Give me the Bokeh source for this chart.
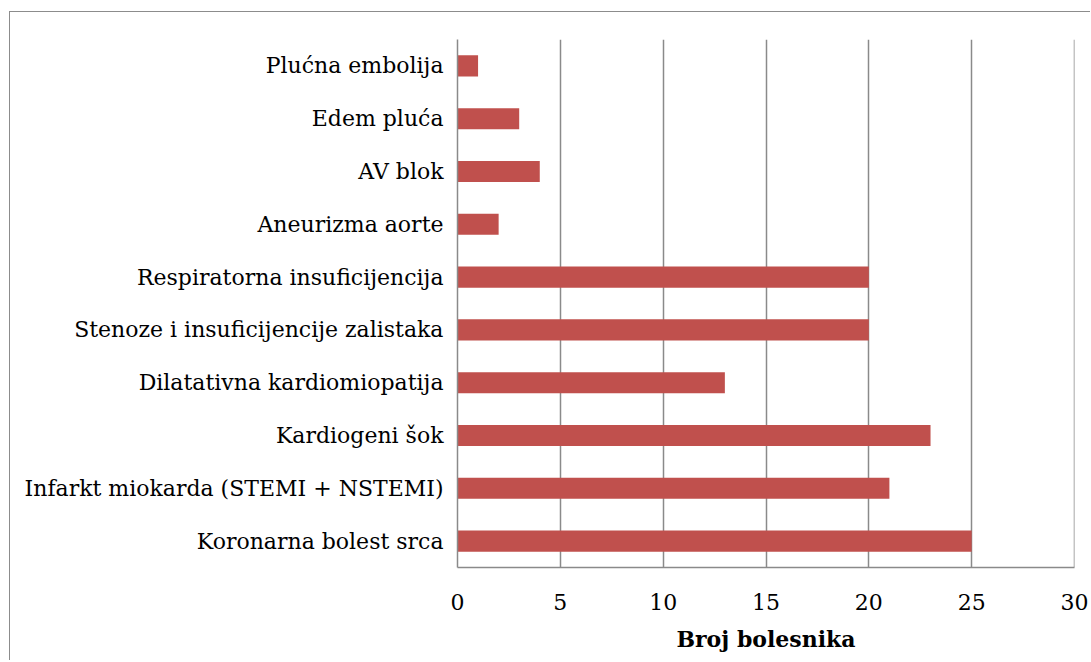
from bokeh.plotting import figure
from bokeh.models import FactorRange, Range1d, FixedTicker, Span
from bokeh.embed import file_html
from bokeh.resources import INLINE

categories = [
    "Plućna embolija",
    "Edem pluća",
    "AV blok",
    "Aneurizma aorte",
    "Respiratorna insuficijencija",
    "Stenoze i insuficijencije zalistaka",
    "Dilatativna kardiomiopatija",
    "Kardiogeni šok",
    "Infarkt miokarda (STEMI + NSTEMI)",
    "Koronarna bolest srca",
]
values = [1, 3, 4, 2, 20, 20, 13, 23, 21, 25]
x_ticks = [0, 5, 10, 15, 20, 25, 30]
x_title = "Broj bolesnika"

FONT = "DejaVu Serif"
GRID = "#8a8a8a"

p = figure(
    width=1081, height=649,
    y_range=FactorRange(factors=list(reversed(categories)), range_padding=0),
    x_range=Range1d(0, 30),
    output_backend="svg", toolbar_location=None,
    min_border_left=447, min_border_right=17, min_border_top=27, min_border_bottom=94,
)
p.margin = (11, 0, 0, 9)
p.styles = {"border-left": "1.5px solid #8c8c8c", "border-top": "1.5px solid #8c8c8c"}

p.hbar(y=categories, right=values, left=0, height=0.4,
       fill_color="#C0504D", line_color=None)

p.outline_line_color = None
p.ygrid.grid_line_color = None
p.xgrid.grid_line_color = GRID
p.xgrid.grid_line_width = 1.5
p.xgrid.ticker = FixedTicker(ticks=x_ticks)
p.add_layout(Span(location=x_ticks[-1], dimension="height",
                  line_color=GRID, line_width=1.5))

p.xaxis.ticker = FixedTicker(ticks=x_ticks)
p.xaxis.axis_line_color = GRID
p.xaxis.axis_line_width = 1.5
p.xaxis.major_tick_line_color = None
p.xaxis.minor_tick_line_color = None
p.xaxis.major_label_text_font = FONT
p.xaxis.major_label_text_font_size = "22px"
p.xaxis.major_label_text_color = "#000000"
p.xaxis.major_label_standoff = 20
p.xaxis.axis_label = x_title
p.xaxis.axis_label_text_font = FONT
p.xaxis.axis_label_text_font_size = "22px"
p.xaxis.axis_label_text_font_style = "bold"
p.xaxis.axis_label_text_color = "#000000"
p.xaxis.axis_label_standoff = 13

p.yaxis.axis_line_color = GRID
p.yaxis.axis_line_width = 1.5
p.yaxis.major_tick_line_color = None
p.yaxis.minor_tick_line_color = None
p.yaxis.major_label_text_font = FONT
p.yaxis.major_label_text_font_size = "22px"
p.yaxis.major_label_text_color = "#000000"
p.yaxis.major_label_standoff = 8

open("out.html", "w").write(file_html(p, INLINE))
